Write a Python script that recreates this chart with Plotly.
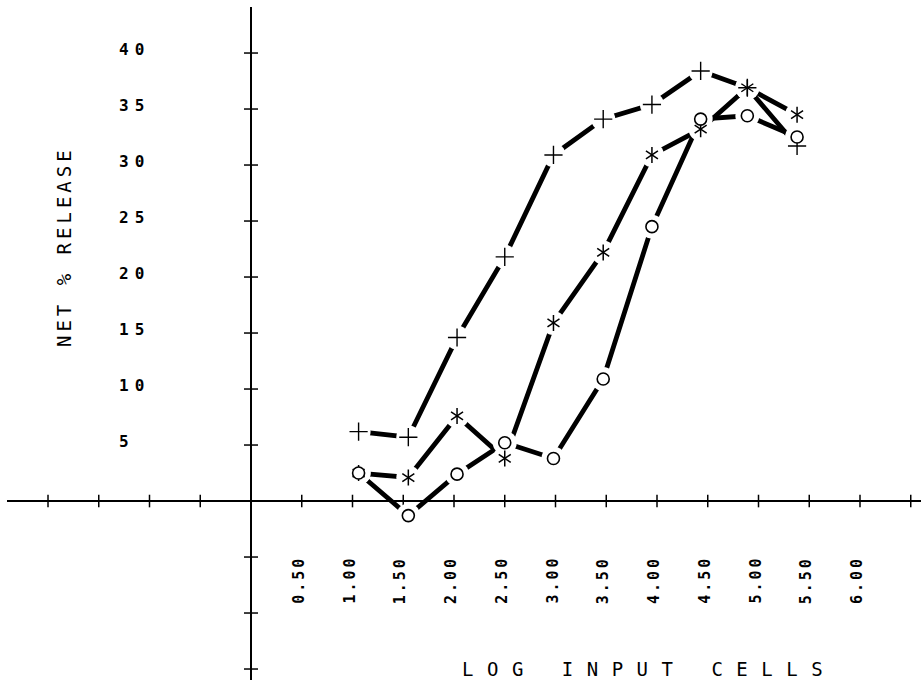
import plotly.graph_objects as go

# ---- data ----
log_input_cells = [1.06, 1.55, 2.03, 2.50, 2.98, 3.47, 3.95, 4.43, 4.89, 5.38]
release_plus = [6.2, 5.7, 14.6, 21.8, 30.9, 34.1, 35.4, 38.4, 36.9, 31.7]
release_star = [2.5, 2.1, 7.6, 3.8, 15.9, 22.2, 30.9, 33.2, 36.9, 34.5]
release_circle = [2.5, -1.3, 2.4, 5.2, 3.8, 10.9, 24.5, 34.1, 34.4, 32.5]

x_tick_values = [-2.0, -1.5, -1.0, -0.5, 0.5, 1.0, 1.5, 2.0, 2.5, 3.0, 3.5, 4.0, 4.5, 5.0, 5.5, 6.0, 6.5]
x_label_values = [0.5, 1.0, 1.5, 2.0, 2.5, 3.0, 3.5, 4.0, 4.5, 5.0, 5.5, 6.0]
x_label_texts = ["0.50", "1.00", "1.50", "2.00", "2.50", "3.00", "3.50", "4.00", "4.50", "5.00", "5.50", "6.00"]
y_tick_values = [-15, -10, -5, 5, 10, 15, 20, 25, 30, 35, 40]
y_label_values = [5, 10, 15, 20, 25, 30, 35, 40]
y_label_texts = ["5", "10", "15", "20", "25", "30", "35", "40"]

x_title = "LOG INPUT CELLS"
y_title = "NET % RELEASE"

MONO = "DejaVu Sans Mono"

fig = go.Figure()

# cross-shaped tick marks on the axes
fig.add_trace(go.Scatter(
    x=x_tick_values, y=[0] * len(x_tick_values), mode="markers",
    marker=dict(symbol="line-ns", size=9, color="black", line=dict(color="black", width=1.5)),
    hoverinfo="skip"))
fig.add_trace(go.Scatter(
    x=[0] * len(y_tick_values), y=y_tick_values, mode="markers",
    marker=dict(symbol="line-ew", size=10, color="black", line=dict(color="black", width=1.5)),
    hoverinfo="skip"))

# thick connecting lines
for ys in (release_plus, release_star, release_circle):
    fig.add_trace(go.Scatter(
        x=log_input_cells, y=ys, mode="lines",
        line=dict(color="black", width=4.8), hoverinfo="skip"))

# white masks giving the plotter-style gaps around each symbol
all_y = release_plus + release_star + release_circle
fig.add_trace(go.Scatter(
    x=log_input_cells * 3, y=all_y, mode="markers",
    marker=dict(symbol="circle", size=24, color="rgb(255,255,255)", opacity=1,
                line=dict(width=0, color="rgb(255,255,255)")),
    hoverinfo="skip"))

# symbols
fig.add_trace(go.Scatter(
    x=log_input_cells, y=release_plus, mode="markers",
    marker=dict(symbol="cross-thin-open", size=13, color="black", line=dict(color="black", width=1.4)),
    name="+"))
for sym in ("y-up-open", "y-down-open"):
    fig.add_trace(go.Scatter(
        x=log_input_cells, y=release_star, mode="markers",
        marker=dict(symbol=sym, size=10, color="black", line=dict(color="black", width=1.5)),
        name="*"))
fig.add_trace(go.Scatter(
    x=log_input_cells, y=release_circle, mode="markers",
    marker=dict(symbol="circle", size=12, color="white", line=dict(color="black", width=1.6)),
    name="o"))

annotations = []
for v, t in zip(y_label_values, y_label_texts):
    annotations.append(dict(
        x=-1.32, y=v, xref="x", yref="y", xanchor="left", yanchor="middle",
        yshift=4, showarrow=False,
        text=f'<span style="letter-spacing:6px">{t}</span>',
        font=dict(family=MONO, size=16, color="black", weight="bold")))
for v, t in zip(x_label_values, x_label_texts):
    annotations.append(dict(
        x=v, y=-7.05, xref="x", yref="y", xanchor="center", yanchor="middle",
        xshift=-3, showarrow=False, textangle=-90,
        text=f'<span style="letter-spacing:3px">{t}</span>',
        font=dict(family=MONO, size=15, color="black", weight="bold")))
annotations.append(dict(
    x=3.918, y=-14.96, xref="x", yref="y", xanchor="center", yanchor="middle",
    showarrow=False,
    text=f'<span style="letter-spacing:13.5px">{x_title}</span>',
    font=dict(family=MONO, size=19, color="black")))
annotations.append(dict(
    x=-1.84, y=22.7, xref="x", yref="y", xanchor="center", yanchor="middle",
    showarrow=False, textangle=-90,
    text=f'<span style="letter-spacing:4px">{y_title}</span>',
    font=dict(family=MONO, size=19, color="black")))

axis_common = dict(showgrid=False, showticklabels=False, ticks="", showline=False,
                   zeroline=True, zerolinecolor="black", zerolinewidth=1.5, fixedrange=True)

fig.update_layout(
    width=921, height=684,
    margin=dict(l=7, r=0, t=7, b=4),
    paper_bgcolor="white", plot_bgcolor="white",
    showlegend=False,
    xaxis=dict(range=[-2.404, 6.601], **axis_common),
    yaxis=dict(range=[-15.98, 44.11], **axis_common),
    annotations=annotations,
)

fig.write_html("out.html")
